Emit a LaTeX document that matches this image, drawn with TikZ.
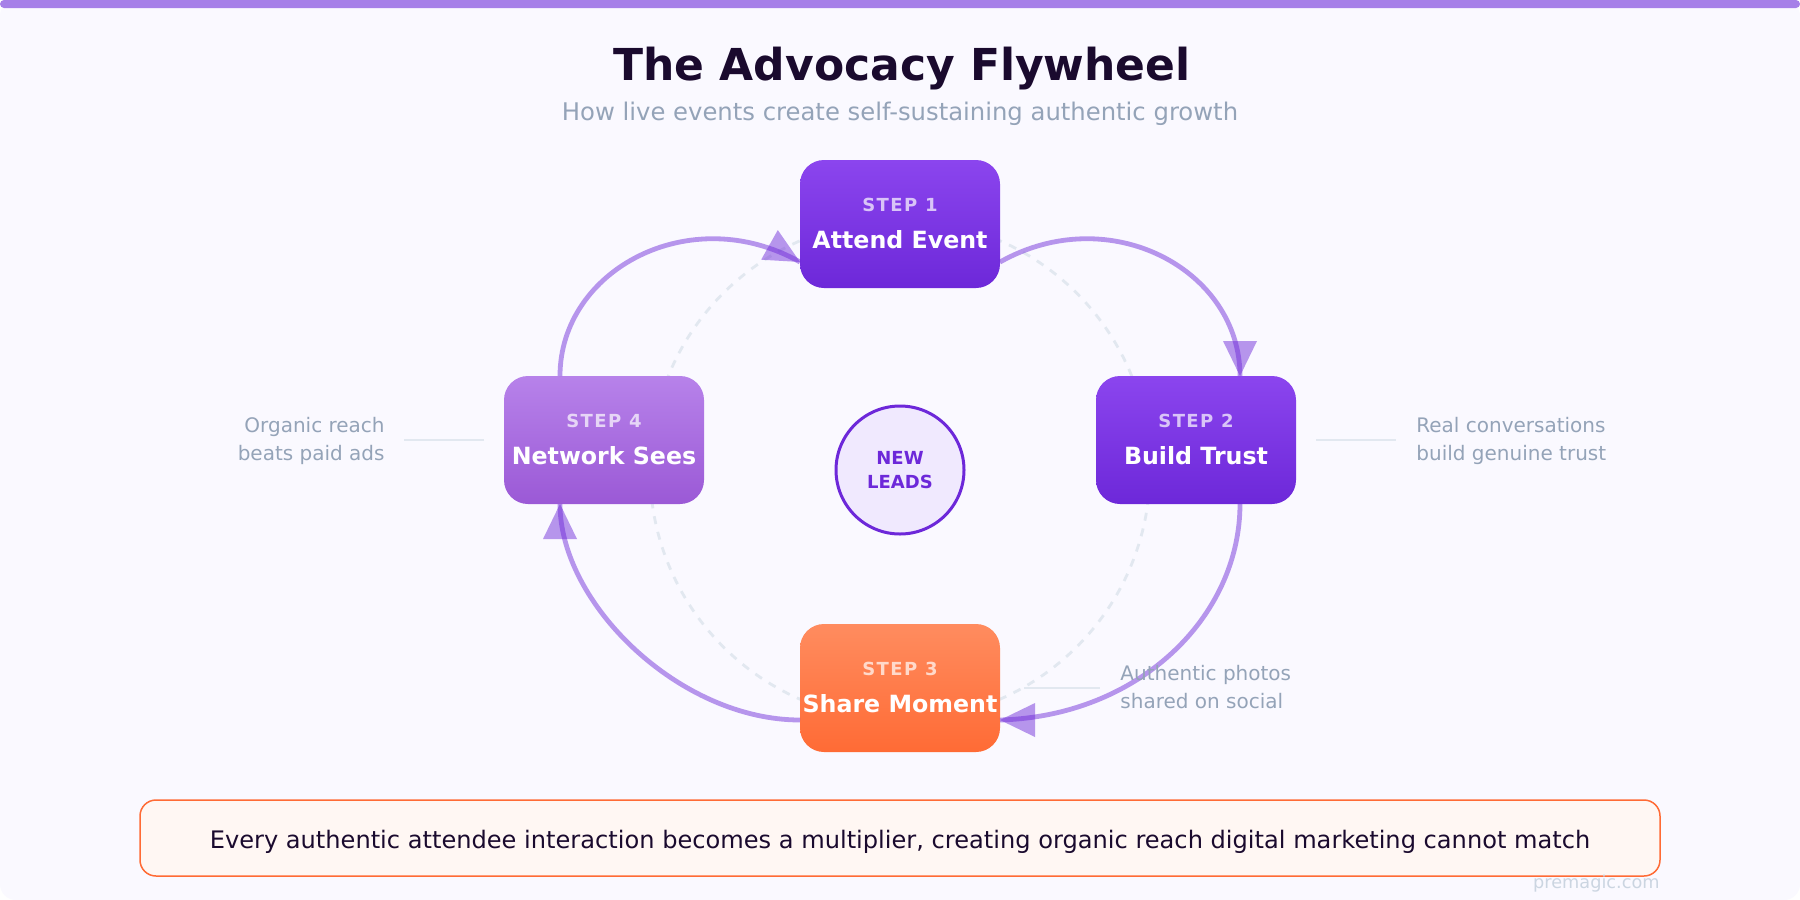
\documentclass[tikz,border=0pt]{standalone}
\usepackage{fontspec}
\setmainfont{DejaVu Sans}
\usetikzlibrary{arrows.meta}
\definecolor{pagebg}{HTML}{FAF9FF}
\definecolor{barcol}{HTML}{A67FE8}
\definecolor{inkdark}{HTML}{1A0A2E}
\definecolor{slate}{HTML}{94A3B8}
\definecolor{paleline}{HTML}{E2E8F0}
\definecolor{wmark}{HTML}{CBD5E1}
\definecolor{violet}{HTML}{6D28D9}
\definecolor{violettop}{HTML}{8B45EE}
\definecolor{lilactop}{HTML}{B782EA}
\definecolor{lilacbot}{HTML}{9B59D6}
\definecolor{orangetop}{HTML}{FF8C5F}
\definecolor{orangebot}{HTML}{FF6B35}
\definecolor{hubfill}{HTML}{F0E9FE}
\definecolor{bannerfill}{HTML}{FFF7F3}
\tikzset{
  stepbox/.style={rounded corners=12pt,minimum width=100pt,minimum height=64pt,inner sep=0pt,shading angle=0},
  steptag/.style={anchor=base,font=\fontsize{9}{11}\selectfont\bfseries\addfontfeature{LetterSpace=8},text=white,text opacity=.7,inner sep=0pt},
  steptitle/.style={anchor=base,font=\fontsize{11.85}{13}\selectfont\bfseries,text=white,inner sep=0pt},
  sidenote/.style={font=\fontsize{10}{12}\selectfont,text=slate,inner sep=0pt},
  noteline/.style={draw=paleline,line width=.75pt},
  flowline/.style={draw=violet,opacity=.48,line width=2.4pt},
  flowhead/.style={draw=violet,opacity=.48,line width=.1pt,-{Triangle[length=17.5pt,width=17pt,line width=0pt]}},
}
\begin{document}
\begin{tikzpicture}[x=1pt,y=-1pt]
\useasboundingbox (0,0) rectangle (900,450);
\fill[white] (0,0) rectangle (900,450);
\fill[pagebg,rounded corners=8pt] (0,0) rectangle (900,450);
\fill[barcol,rounded corners=2pt] (0,0) rectangle (900,4);
\node[anchor=base,font=\fontsize{22}{26}\selectfont\bfseries,text=inkdark,inner sep=0pt] (title) at (451,40) {The Advocacy Flywheel};
\node[anchor=base,font=\fontsize{12.15}{14}\selectfont,text=slate,inner sep=0pt] (subtitle) at (450,60) {How live events create self-sustaining authentic growth};
% dashed ring behind the boxes
\node[circle,draw=paleline,line width=1.4pt,dash pattern=on 4pt off 4pt,minimum size=250pt,inner sep=0pt] (ring) at (450,235) {};
% boxes
\node[stepbox,top color=violettop,bottom color=violet] (attend) at (450,112) {};
\node[stepbox,top color=violettop,bottom color=violet] (trust) at (598,220) {};
\node[stepbox,top color=orangetop,bottom color=orangebot] (share) at (450,344) {};
\node[stepbox,top color=lilactop,bottom color=lilacbot] (network) at (302,220) {};
% connector ends
\coordinate (attendL) at (400,131);
\coordinate (attendR) at (500,131);
\coordinate (trustT) at (620,188);
\coordinate (trustB) at (620,252);
\coordinate (shareR) at (500,360);
\coordinate (shareL) at (400,360);
\coordinate (networkB) at (280,252);
\coordinate (networkT) at (280,188);
% flywheel
\draw[flowline] (attendR) .. controls (555,100) and (620,135) .. (trustT);
\draw[flowline] (trustB) .. controls (620,308) and (570,358) .. (shareR);
\draw[flowline] (shareL) .. controls (340,360) and (280,302) .. (networkB);
\draw[flowline] (networkT) .. controls (280,135) and (345,100) .. (attendL);
% arrowheads
\coordinate (headA) at (384.5,122.3);
\coordinate (headB) at (620,170.5);
\coordinate (headC) at (517.5,360);
\coordinate (headD) at (280,269.5);
\draw[flowhead] (headA) -- (attendL);
\draw[flowhead] (headB) -- (trustT);
\draw[flowhead] (headC) -- (shareR);
\draw[flowhead] (headD) -- (networkB);
% box texts
\node[steptag] (tag1) at (450,105.7) {STEP 1};
\node[steptitle] (name1) at (450,124) {Attend Event};
\node[steptag] (tag2) at (598,213.7) {STEP 2};
\node[steptitle] (name2) at (598,232) {Build Trust};
\node[steptag] (tag3) at (450,337.7) {STEP 3};
\node[steptitle] (name3) at (450,356) {Share Moment};
\node[steptag] (tag4) at (302,213.7) {STEP 4};
\node[steptitle] (name4) at (302,232) {Network Sees};
% hub
\node[circle,draw=violet,fill=hubfill,line width=1.5pt,minimum size=64pt,inner sep=0pt] (hub) at (450,235) {};
\node[anchor=base,font=\fontsize{9}{11}\selectfont\bfseries,text=violet,inner sep=0pt] (hubA) at (450,232) {NEW};
\node[anchor=base,font=\fontsize{9}{11}\selectfont\bfseries,text=violet,inner sep=0pt] (hubB) at (450,244) {LEADS};
% side notes
\coordinate (trustA) at (658,220);
\coordinate (trustC) at (698,220);
\draw[noteline] (trustA) -- (trustC);
\node[sidenote,anchor=base west] (noteR1) at (708,216) {Real conversations};
\node[sidenote,anchor=base west] (noteR2) at (708,230) {build genuine trust};
\coordinate (shareA) at (512,344);
\coordinate (shareC) at (550,344);
\draw[noteline] (shareA) -- (shareC);
\node[sidenote,anchor=base west] (noteB1) at (560,340) {Authentic photos};
\node[sidenote,anchor=base west] (noteB2) at (560,354) {shared on social};
\coordinate (networkA) at (242,220);
\coordinate (networkC) at (202,220);
\draw[noteline] (networkA) -- (networkC);
\node[sidenote,anchor=base east] (noteL1) at (192.5,216) {Organic reach};
\node[sidenote,anchor=base east] (noteL2) at (192.5,230) {beats paid ads};
% banner
\node[draw=orangebot,fill=bannerfill,line width=.75pt,rounded corners=8pt,minimum width=760pt,minimum height=38pt,inner sep=0pt] (banner) at (450,419) {};
\node[anchor=base,font=\fontsize{12.05}{14}\selectfont,text=inkdark,inner sep=0pt] (bannertext) at (450,424) {Every authentic attendee interaction becomes a multiplier, creating organic reach digital marketing cannot match};
\node[anchor=base east,font=\fontsize{8.85}{11}\selectfont,text=wmark,inner sep=0pt] (wmark) at (830,444) {premagic.com};
\end{tikzpicture}
\end{document}
